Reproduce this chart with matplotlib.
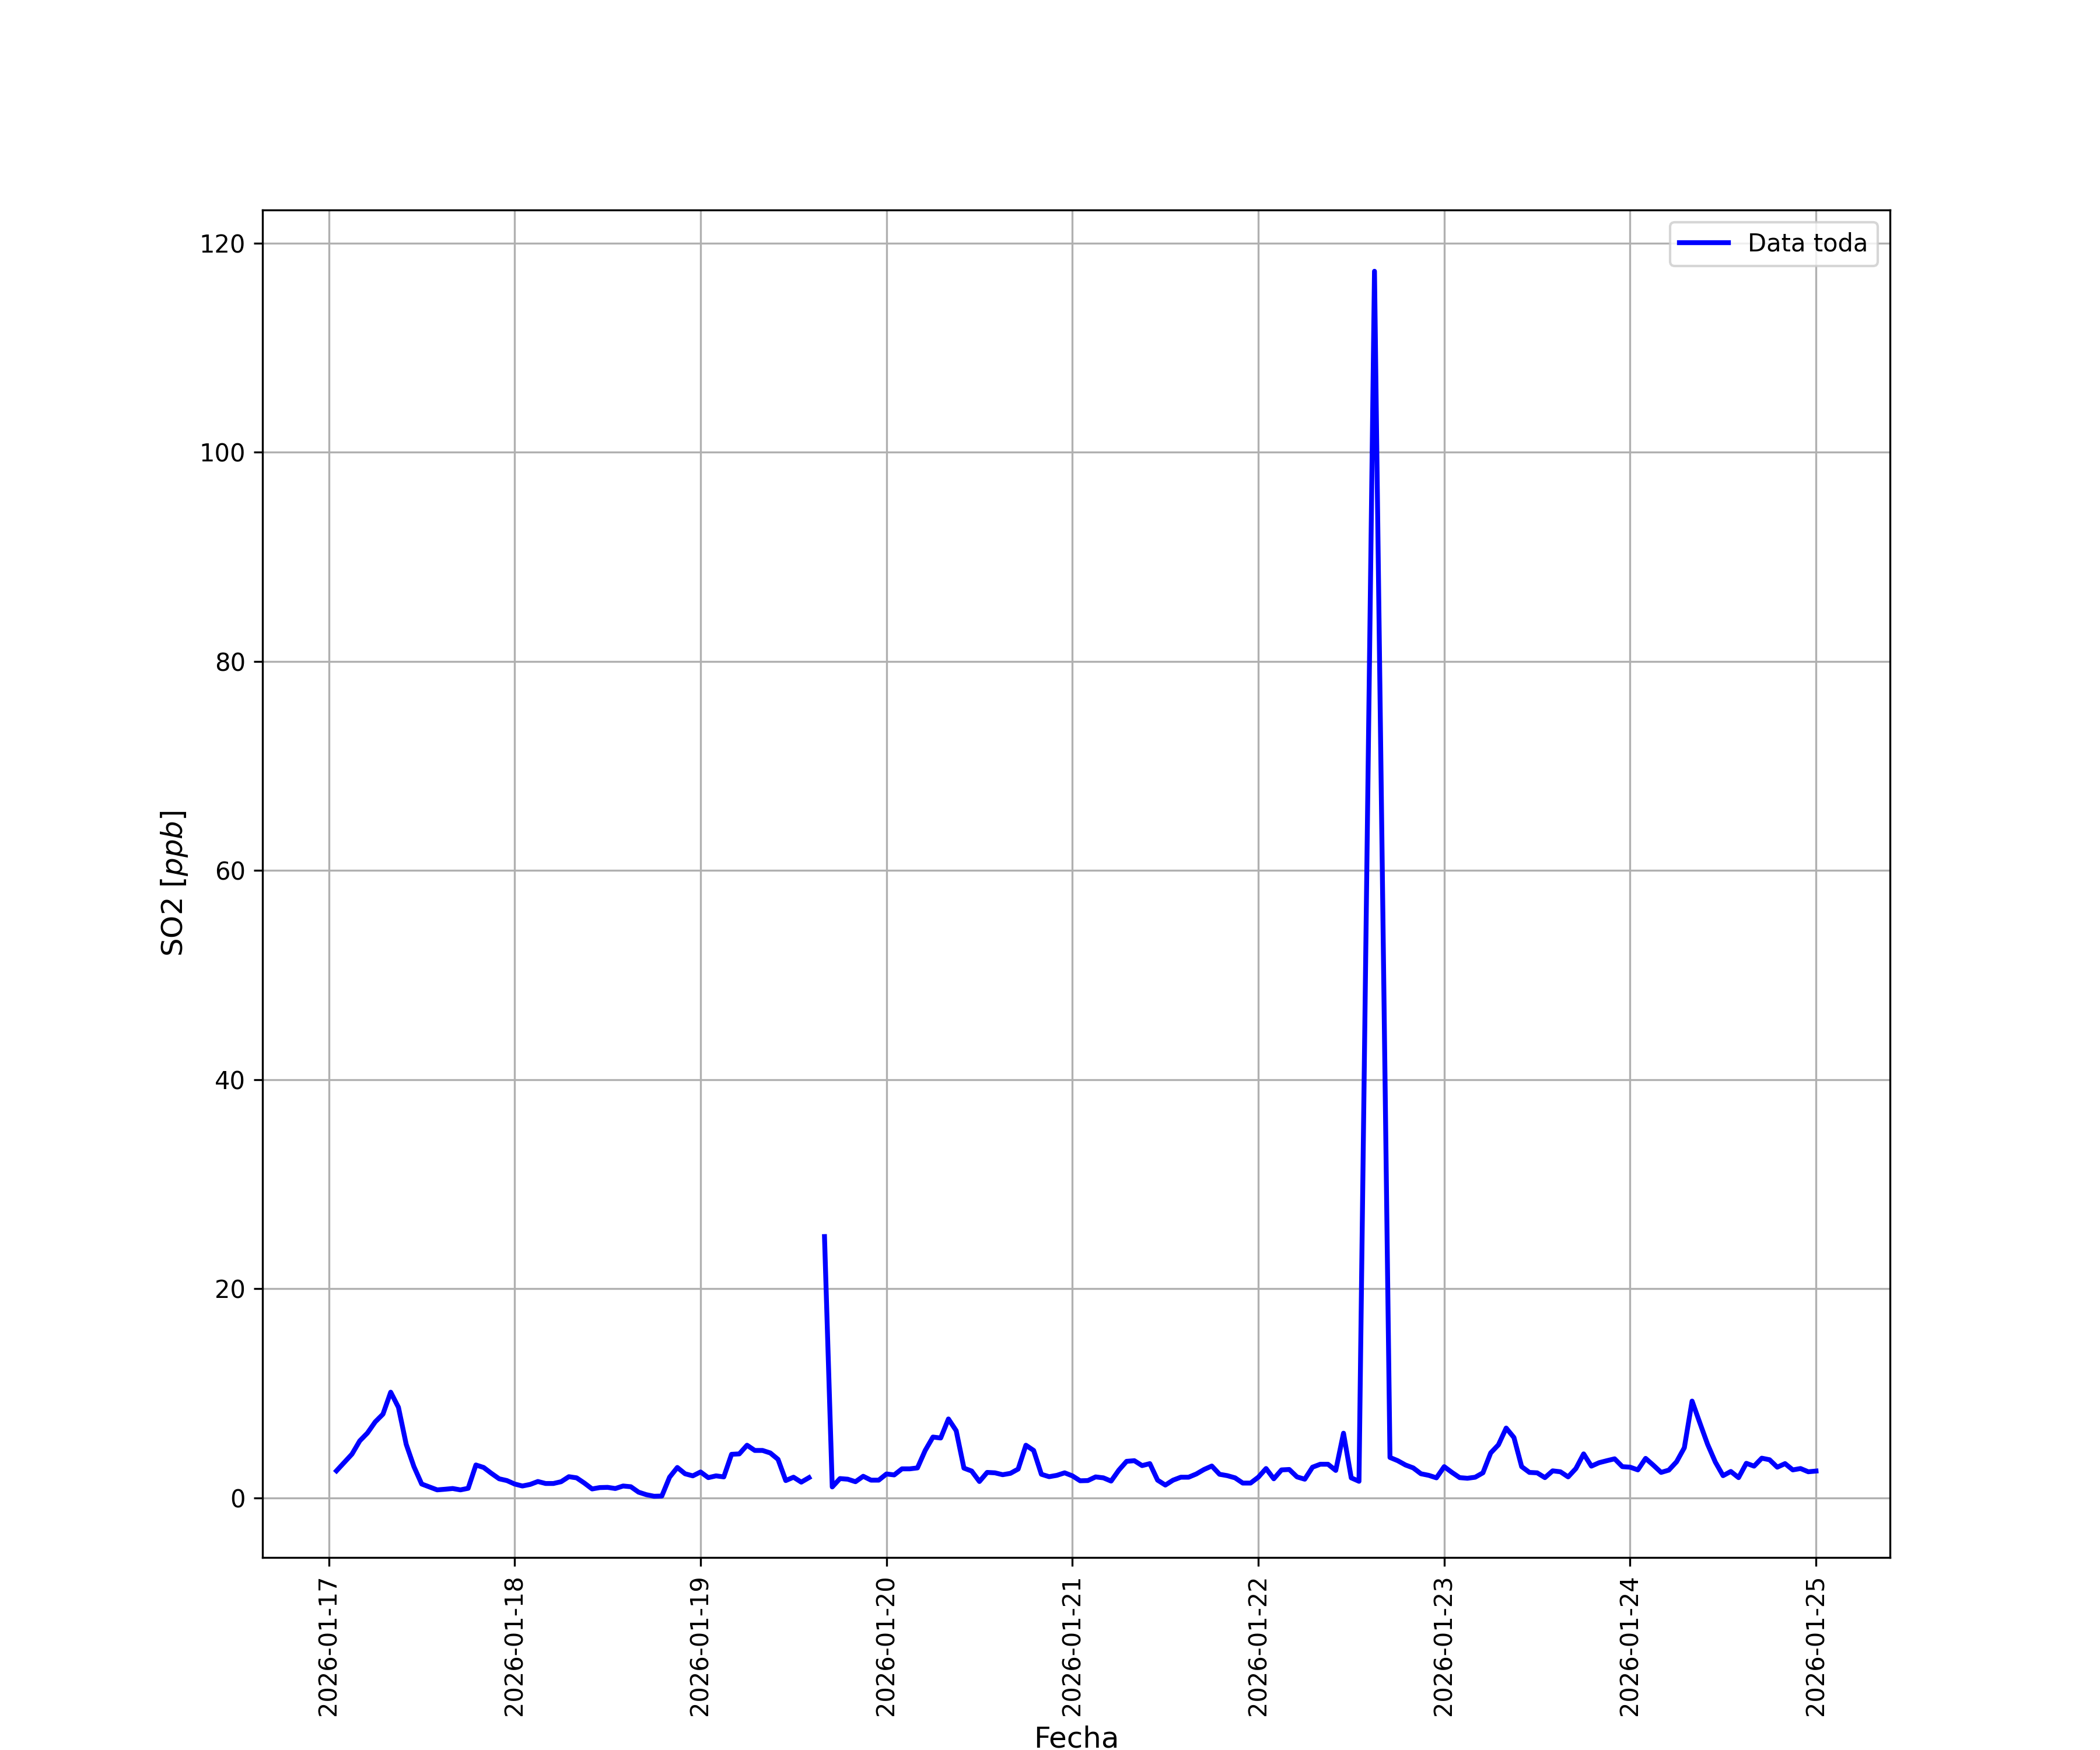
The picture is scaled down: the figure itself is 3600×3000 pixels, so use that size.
import numpy as np
import pandas as pd
import matplotlib
matplotlib.use("Agg")
import matplotlib.pyplot as plt
import matplotlib.dates as mdates

NaN = float("nan")
# Hourly SO2 [ppb]; None = hour absent from the record, NaN = recorded but missing
start_day = "2026-01-17"
day_17 = [None, 2.6, 3.4, 4.2, 5.46, 6.22, 7.28, 8.02, 10.12, 8.67, 5.14, 3.0,
          1.34, 1.06, 0.78, 0.84, 0.91, 0.78, 0.93, 3.16, 2.92, 2.36, 1.84, 1.67]
day_18 = [1.34, 1.15, 1.3, 1.58, 1.39, 1.39, 1.56, 2.04, 1.93, 1.43, 0.87, 1.0,
          1.02, 0.91, 1.15, 1.08, 0.56, 0.32, 0.17, 0.19, 1.99, 2.92, 2.32, 2.12]
day_19 = [2.49, 1.95, 2.12, 2.02, 4.18, 4.22, 5.05, 4.55, 4.55, 4.31, 3.7, 1.67,
          1.99, 1.52, 1.95, NaN, 25.0, 1.06, 1.86, 1.8, 1.56, 2.08, 1.71, 1.71]
day_20 = [2.3, 2.21, 2.79, 2.79, 2.88, 4.55, 5.83, 5.74, 7.56, 6.44, 2.86, 2.58,
          1.58, 2.45, 2.41, 2.23, 2.36, 2.77, 5.05, 4.55, 2.27, 2.04, 2.17, 2.41]
day_21 = [2.12, 1.65, 1.67, 2.02, 1.93, 1.62, 2.67, 3.51, 3.57, 3.1, 3.29, 1.71,
          1.24, 1.71, 1.99, 1.99, 2.3, 2.73, 3.06, 2.27, 2.14, 1.93, 1.43, 1.43]
day_22 = [1.99, 2.82, 1.84, 2.69, 2.73, 2.02, 1.8, 2.95, 3.23, 3.23, 2.64, 6.2,
          1.93, 1.6, None, 117.3, None, 3.88, 3.57, 3.16, 2.88, 2.32, 2.17, 1.93]
day_23 = [3.0, 2.45, 1.95, 1.89, 1.99, 2.41, 4.31, 5.09, 6.69, 5.79, 3.0, 2.45,
          2.41, 1.95, 2.6, 2.51, 2.02, 2.82, 4.22, 3.05, 3.38, 3.57, 3.75, 3.0]
day_24 = [2.95, 2.69, 3.79, 3.14, 2.45, 2.67, 3.47, 4.81, 9.27, 7.19, 5.14, 3.44,
          2.14, 2.54, 1.95, 3.32, 3.05, 3.81, 3.66, 2.95, 3.29, 2.69, 2.82, 2.51]
day_25 = [2.58]

all_days = [day_17, day_18, day_19, day_20, day_21, day_22, day_23, day_24, day_25]

times, values = [], []
t0 = pd.Timestamp(start_day)
for d, day in enumerate(all_days):
    for h, v in enumerate(day):
        if v is None:
            continue
        times.append(t0 + pd.Timedelta(days=d, hours=h))
        values.append(v)

series = pd.Series(values, index=pd.DatetimeIndex(times))

fig, ax = plt.subplots(figsize=(12, 10), dpi=300)
ax.plot(series.index, series.values, color="b", linewidth=2, label="Data toda")
ax.grid(True)
ax.set_xlabel("Fecha", fontsize=12)
ax.set_ylabel("SO2 [$ppb$]", fontsize=12)
ax.xaxis.set_major_locator(mdates.DayLocator())
ax.xaxis.set_major_formatter(mdates.DateFormatter("%Y-%m-%d"))
plt.setp(ax.get_xticklabels(), rotation=90)
ax.legend(loc="upper right")
fig.savefig("out.png", dpi=300)
